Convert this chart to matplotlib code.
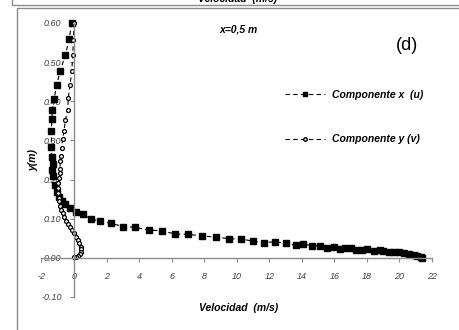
import matplotlib
matplotlib.use("Agg")
import matplotlib.pyplot as plt
from matplotlib.lines import Line2D

# Componente x (u): velocity (m/s) vs height y (m)
u_vel = [-0.14, -0.31, -0.53, -0.86, -1.07, -1.23, -1.33, -1.37, -1.39, -1.39,
         -1.37, -1.31, -1.33, -1.27, -1.17, -1.03, -0.92, -0.76, -0.55, -0.25,
         0.12, 0.57, 1.03, 1.60, 2.28, 3.03, 3.75, 4.60, 5.43, 6.20,
         7.03, 7.86, 8.70, 9.50, 10.26, 10.97, 11.65, 12.33, 13.03, 13.64,
         14.10, 14.63, 15.10, 15.55, 16.00, 16.37, 16.68, 17.00, 17.35, 17.70,
         18.00, 18.42, 18.83, 19.00, 19.35, 19.65, 19.96, 20.26, 20.57, 20.88,
         21.10, 21.30, 21.40]
u_y = [0.600, 0.558, 0.518, 0.477, 0.441, 0.405, 0.379, 0.354, 0.324, 0.284,
       0.258, 0.241, 0.224, 0.209, 0.186, 0.169, 0.155, 0.146, 0.138, 0.127,
       0.117, 0.111, 0.099, 0.094, 0.088, 0.080, 0.078, 0.071, 0.069, 0.061,
       0.060, 0.056, 0.053, 0.049, 0.048, 0.043, 0.039, 0.041, 0.037, 0.032,
       0.035, 0.031, 0.031, 0.026, 0.027, 0.023, 0.025, 0.025, 0.020, 0.021,
       0.022, 0.018, 0.020, 0.018, 0.014, 0.015, 0.015, 0.012, 0.010, 0.008,
       0.005, 0.002, 0.000]

# Componente y (v)
v_vel = [0.00, -0.04, -0.08, -0.14, -0.25, -0.35, -0.39, -0.53, -0.62, -0.70,
         -0.76, -0.82, -0.86, -0.86, -0.88, -0.92, -0.96, -0.98, -0.98, -0.94,
         -0.90, -0.86, -0.80, -0.70, -0.60, -0.49, -0.39, -0.25, -0.12, 0.00,
         0.12, 0.23, 0.33, 0.41, 0.45, 0.43, 0.37, 0.27, 0.12, 0.02]
v_y = [0.600, 0.556, 0.518, 0.477, 0.441, 0.409, 0.379, 0.352, 0.324, 0.303,
       0.281, 0.260, 0.247, 0.228, 0.216, 0.203, 0.190, 0.178, 0.165, 0.154,
       0.144, 0.133, 0.122, 0.114, 0.104, 0.094, 0.087, 0.080, 0.071, 0.063,
       0.054, 0.046, 0.037, 0.029, 0.022, 0.015, 0.010, 0.006, 0.003, 0.001]

x_ticks = list(range(-2, 23, 2))
y_ticks = [-0.10, 0.00, 0.10, 0.20, 0.30, 0.40, 0.50, 0.60]

plt.rcParams["font.family"] = ["Liberation Sans", "DejaVu Sans"]
W, H = 459, 330
fig = plt.figure(figsize=(W / 100, H / 100), dpi=100)
ax = fig.add_axes([41.5 / W, 1 - 297 / H, (432 - 41.5) / W, (297 - 23) / H])

dash = (0, (4, 3))
ax.plot(u_vel, u_y, color="black", lw=0.8, linestyle=dash, marker="s",
        ms=3.8, mfc="black", mec="black", clip_on=False)
ax.plot(v_vel, v_y, color="black", lw=0.8, linestyle=dash, marker="o",
        ms=2.8, mfc="white", mec="black", mew=0.9, clip_on=False)

ax.set_xlim(-2, 22)
ax.set_ylim(-0.10, 0.60)
for s in ["top", "right"]:
    ax.spines[s].set_visible(False)
ax.spines["left"].set_position(("data", 0))
ax.spines["bottom"].set_position(("data", 0))
for s in ["left", "bottom"]:
    ax.spines[s].set_color("#8c8c8c")
    ax.spines[s].set_linewidth(1.0)

ax.set_xticks(x_ticks)
ax.set_xticklabels([str(t) for t in x_ticks])
ax.set_yticks(y_ticks)
ax.set_yticklabels([f"{t:.2f}" for t in y_ticks])
ax.tick_params(axis="both", direction="out", length=3, width=0.8,
               color="#8c8c8c", labelsize=6.5, labelcolor="#404040")
ax.tick_params(axis="x", pad=7)
ax.tick_params(axis="y", pad=6)
for lab in ax.get_xticklabels() + ax.get_yticklabels():
    lab.set_fontstyle("italic")

lbl = dict(fontsize=7.5, fontweight="bold", fontstyle="italic")
fig.text(239 / W, 1 - 308 / H, "Velocidad  (m/s)", ha="center", va="center", **lbl)
fig.text(33 / W, 1 - 160 / H, "y(m)", ha="center", va="center", rotation=90, **lbl)
fig.text(239 / W, 1 - 30 / H, "x=0,5 m", ha="center", va="center", **lbl)
fig.text(407 / W, 1 - 45 / H, "(d)", ha="center", va="center", fontsize=13)

# cut-off axis title from the chart above (reference shows it clipped)
fig.text(238 / W, 1 + 1 / H, "Velocidad  (m/s)", ha="center", va="center", **lbl)

# chart frames
fig.add_artist(Line2D([12 / W, 12 / W, 1], [1, 1 - 5 / H, 1 - 5 / H],
                      transform=fig.transFigure, color="#8c8c8c", lw=1.0))
fig.add_artist(Line2D([16.5 / W, 16.5 / W, 1], [0, 1 - 7.5 / H, 1 - 7.5 / H],
                      transform=fig.transFigure, color="#8c8c8c", lw=1.0))

handles = [
    Line2D([], [], color="black", lw=0.8, linestyle=dash, marker="s", ms=3.5,
           mfc="black", mec="black"),
    Line2D([], [], color="black", lw=0.8, linestyle=dash, marker="o", ms=2.5,
           mfc="white", mec="black"),
]
fig.legend(handles, ["Componente x  (u)", "Componente y (v)"],
           loc="upper left", bbox_to_anchor=(285 / W, 1 - 90 / H),
           frameon=False, borderpad=0, borderaxespad=0, numpoints=1,
           handlelength=3.8, handletextpad=0.7, labelspacing=3.3,
           prop=dict(family="Liberation Sans", size=7.5, weight="bold", style="italic"))

fig.savefig("out.png", dpi=100)
